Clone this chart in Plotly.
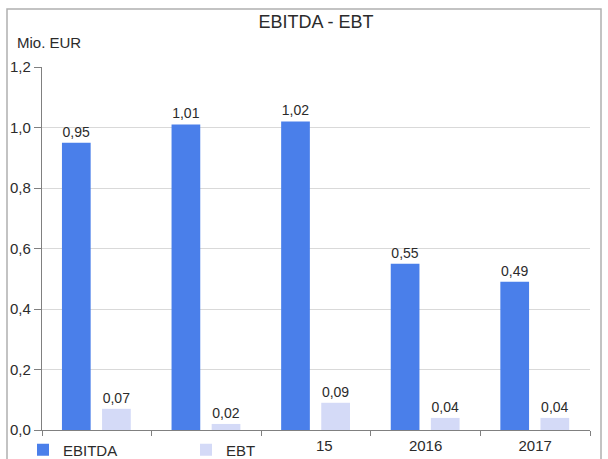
import plotly.graph_objects as go

categories = ["2013", "2014", "2015", "2016", "2017"]
tick_labels = ["", "", "\u2007\u200715", "2016", "2017"]
ebitda = [0.95, 1.01, 1.02, 0.55, 0.49]
ebt = [0.07, 0.02, 0.09, 0.04, 0.04]
y_ticks = [0, 0.2, 0.4, 0.6, 0.8, 1.0, 1.2]

FONT = "Liberation Sans, Arial, sans-serif"
TXT = "#2b2b2b"

W, H = 608, 459
L, R, T, B = 42, 18, 67, 29
pw, ph = W - L - R, H - T - B

def px_x(p):
    return (p - L) / pw

def px_y(p):
    return (H - B - p) / ph

fig = go.Figure()
fig.add_trace(go.Bar(
    name="EBITDA", x=categories, y=ebitda,
    width=0.262, offset=-0.318,
    marker=dict(color="#4A7FEA", line=dict(width=0)),
    texttemplate="%{y:.2f}", textposition="outside",
    textfont=dict(family=FONT, size=14, color=TXT), cliponaxis=False,
))
fig.add_trace(go.Bar(
    name="EBT", x=categories, y=ebt,
    width=0.262, offset=0.048,
    marker=dict(color="#D4DAF7", line=dict(width=0)),
    texttemplate="%{y:.2f}", textposition="outside",
    textfont=dict(family=FONT, size=14, color=TXT), cliponaxis=False,
))

fig.update_layout(
    width=W, height=H,
    margin=dict(l=L, r=R, t=T, b=B, autoexpand=False),
    paper_bgcolor="white", plot_bgcolor="white",
    separators=",.",
    barmode="overlay",
    font=dict(family=FONT, size=14, color=TXT),
    title=dict(text="EBITDA - EBT", x=0.5, xref="paper", xanchor="center",
               y=1 - 22 / H, yanchor="middle", yref="container",
               font=dict(family=FONT, size=18, color=TXT)),
    showlegend=True,
    legend=dict(orientation="h", xref="container", yref="container",
                x=23 / W, y=1 - 450 / H, xanchor="left", yanchor="middle",
                bgcolor="rgba(0,0,0,0)", font=dict(family=FONT, size=15, color=TXT),
                entrywidth=118, entrywidthmode="pixels", itemwidth=30,
                traceorder="normal"),
    xaxis=dict(type="category", tickmode="array", tickvals=categories, ticktext=tick_labels,
               tickson="boundaries", ticks="outside", ticklen=5, tickcolor="#808080",
               ticklabelstandoff=2, automargin=False,
               showline=True, linecolor="#808080", linewidth=1.2,
               showgrid=False, tickfont=dict(family=FONT, size=15, color=TXT)),
    yaxis=dict(range=[0, 1.2], tickmode="array", tickvals=y_ticks,
               tickformat=".1f", ticks="outside", ticklen=7, tickcolor="#808080",
               automargin=False,
               showline=True, linecolor="#808080", linewidth=1.2,
               showgrid=True, gridcolor="#D9D9D9", gridwidth=1, zeroline=False,
               tickfont=dict(family=FONT, size=15, color=TXT)),
    annotations=[dict(text="Mio. EUR", xref="paper", yref="paper",
                      x=px_x(15), y=px_y(42), xanchor="left", yanchor="middle",
                      showarrow=False, font=dict(family=FONT, size=15, color=TXT))],
    shapes=[dict(type="rect", xref="paper", yref="paper",
                 x0=px_x(7), x1=px_x(601), y0=px_y(475), y1=px_y(9),
                 line=dict(color="#B0B0B0", width=1.5), fillcolor="rgba(0,0,0,0)",
                 layer="below")],
)

fig.write_html("out.html", config={"displayModeBar": False},
               post_script="document.body.style.margin='0';document.body.style.overflow='hidden';")
